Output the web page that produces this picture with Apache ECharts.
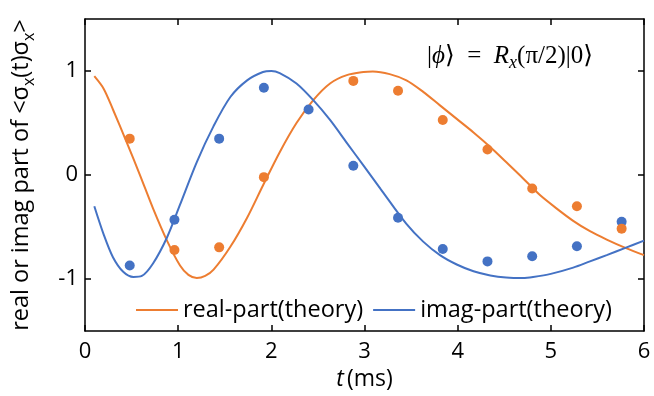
<!DOCTYPE html>
<html>
<head>
<meta charset="utf-8">
<script src="https://cdn.jsdelivr.net/npm/echarts@6/dist/echarts.min.js"></script>
<style>html,body{margin:0;padding:0;background:#fff}#c{width:654px;height:396px}</style>
</head>
<body>
<div id="c"></div>
<script>
// Theory curves
var realT = [0.10,0.20,0.30,0.45,0.59,0.73,0.88,1.02,1.11,1.20,1.29,1.38,1.56,1.74,1.91,2.09,2.27,2.45,2.63,2.81,2.99,3.09,3.27,3.45,3.63,3.81,3.99,4.17,4.35,4.52,4.70,4.88,5.06,5.24,5.42,5.60,5.80,6.00];
var realV = [0.95,0.83,0.63,0.31,0.00,-0.32,-0.63,-0.87,-0.96,-0.99,-0.97,-0.91,-0.69,-0.41,-0.10,0.22,0.50,0.72,0.88,0.96,0.99,0.995,0.97,0.91,0.80,0.67,0.54,0.41,0.27,0.125,-0.03,-0.19,-0.32,-0.44,-0.54,-0.62,-0.70,-0.77];
var imagT = [0.10,0.20,0.30,0.41,0.52,0.61,0.73,0.88,1.02,1.20,1.38,1.56,1.74,1.91,2.00,2.09,2.27,2.45,2.63,2.81,2.99,3.17,3.45,3.63,3.81,3.99,4.17,4.35,4.52,4.70,4.81,5.00,5.24,5.42,5.60,5.80,6.00];
var imagV = [-0.30,-0.57,-0.79,-0.93,-0.98,-0.97,-0.85,-0.60,-0.285,0.125,0.47,0.75,0.91,0.99,1.00,0.98,0.88,0.72,0.53,0.31,0.09,-0.13,-0.47,-0.64,-0.77,-0.86,-0.925,-0.965,-0.985,-0.99,-0.98,-0.95,-0.89,-0.83,-0.77,-0.70,-0.63];
// Measured points
var dotT = [0.48,0.96,1.44,1.92,2.40,2.88,3.36,3.84,4.32,4.80,5.28,5.76];
var dotReal = [0.35,-0.72,-0.695,-0.02,null,0.905,0.81,0.53,0.245,-0.13,-0.30,-0.515];
var dotImag = [-0.87,-0.43,0.35,0.84,0.63,0.09,-0.41,-0.71,-0.83,-0.78,-0.685,-0.45];
var xTicks = [0,1,2,3,4,5,6];
var yTicks = [-1,0,1];
var legendNames = ['real-part(theory)','imag-part(theory)'];

function pairs(a,b){var r=[];for(var i=0;i<a.length;i++){r.push([a[i],b[i]]);}return r;}

var ORANGE='#ED7D31', BLUE='#4472C4';
var FONT='Open Sans';
var axisLineStyle={show:true,onZero:false,lineStyle:{color:'#000',width:1.5}};
var tickStyle={show:true,inside:true,length:6,lineStyle:{color:'#000',width:1.5}};

var chart=echarts.init(document.getElementById('c'),null,{renderer:'canvas'});
chart.setOption({
  animation:false,
  backgroundColor:'#fff',
  grid:{left:85,right:10,top:19,bottom:63,containLabel:false},
  legend:{
    data:legendNames, left:131, top:293, icon:'rect', itemWidth:42, itemHeight:2, itemGap:10,
    textStyle:{fontFamily:FONT,fontSize:23.5,color:'#000'}
  },
  xAxis:[{
    type:'value', min:0, max:6, interval:1, position:'bottom',
    axisLine:axisLineStyle, axisTick:Object.assign({},tickStyle,{customValues:xTicks}),
    axisLabel:{customValues:xTicks,fontFamily:FONT,fontSize:22,color:'#000',margin:10},
    splitLine:{show:false},
    name:'{i|t} {n|(ms)}', nameLocation:'middle', nameGap:36,
    nameTextStyle:{rich:{i:{fontFamily:FONT,fontSize:23,fontStyle:'italic',color:'#000'},n:{fontFamily:FONT,fontSize:23,color:'#000'}}}
  },{
    type:'value', min:0, max:6, interval:1, position:'top',
    axisLine:axisLineStyle, axisTick:Object.assign({},tickStyle,{customValues:xTicks}),
    axisLabel:{show:false}, splitLine:{show:false}
  }],
  yAxis:[{
    type:'value', min:-1.5, max:1.5, position:'left',
    axisLine:axisLineStyle, axisTick:Object.assign({},tickStyle,{customValues:yTicks}),
    axisLabel:{customValues:yTicks,fontFamily:FONT,fontSize:22,color:'#000',margin:7},
    splitLine:{show:false},
    name:'{n|real or imag part of <σ}{s|x}{n|(t)σ}{s|x}{n|>}', nameLocation:'middle', nameGap:48,
    nameTextStyle:{rich:{
      n:{fontFamily:FONT,fontSize:23.5,color:'#000',lineHeight:32,verticalAlign:'middle'},
      s:{fontFamily:FONT,fontSize:16,color:'#000',lineHeight:16,verticalAlign:'bottom'}
    }}
  },{
    type:'value', min:-1.5, max:1.5, position:'right',
    axisLine:axisLineStyle, axisTick:Object.assign({},tickStyle,{customValues:yTicks}),
    axisLabel:{show:false}, splitLine:{show:false}
  }],
  graphic:[{
    type:'text', left:427, top:44,
    style:{
      text:'{n||}{i|ϕ}{n|⟩  =  }{i|R}{s|x}{n|(π/2)|0⟩}',
      rich:{
        n:{fontFamily:'Liberation Serif, DejaVu Serif',fontSize:25,fill:'#000',lineHeight:32,verticalAlign:'middle'},
        i:{fontFamily:'Liberation Serif, DejaVu Serif',fontSize:25,fontStyle:'italic',fill:'#000',lineHeight:32,verticalAlign:'middle'},
        s:{fontFamily:'Liberation Serif, DejaVu Serif',fontSize:18,fontStyle:'italic',fill:'#000',lineHeight:18,verticalAlign:'bottom'}
      }
    }
  }],
  series:[
    {name:legendNames[0], type:'line', data:pairs(realT,realV), smooth:0.3, symbol:'none',
     lineStyle:{color:ORANGE,width:2}, itemStyle:{color:ORANGE}, z:2},
    {name:legendNames[1], type:'line', data:pairs(imagT,imagV), smooth:0.3, symbol:'none',
     lineStyle:{color:BLUE,width:2}, itemStyle:{color:BLUE}, z:2},
    {name:'imag-data', type:'scatter', data:pairs(dotT,dotImag), symbol:'circle', symbolSize:10,
     itemStyle:{color:BLUE,opacity:1}, z:3},
    {name:'real-data', type:'scatter', data:pairs(dotT,dotReal), symbol:'circle', symbolSize:10,
     itemStyle:{color:ORANGE,opacity:1}, z:4}
  ]
});
</script>
</body>
</html>
